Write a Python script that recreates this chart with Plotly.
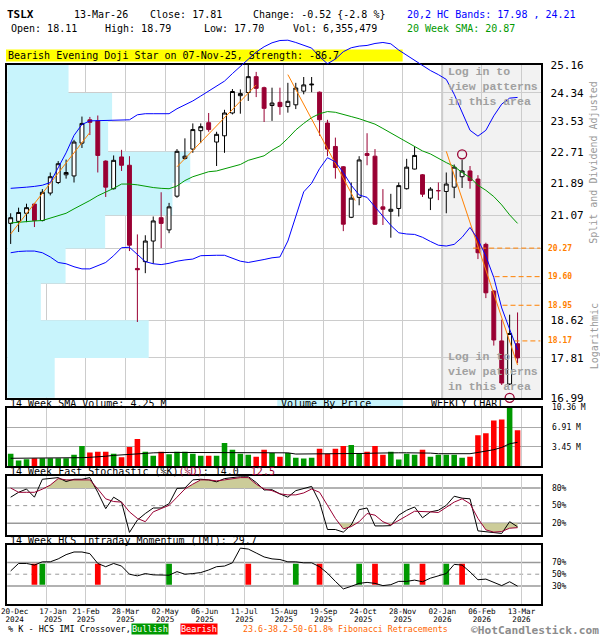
import math
import plotly.graph_objects as go

FONT = "DejaVu Sans Mono"

# ---------------------------------------------------------------- data
x_tick_weeks = [0, 4, 9, 14, 19, 24, 29, 34, 39, 44, 49, 54, 59, 64]
x_tick_dates = ["20-Dec", "17-Jan", "21-Feb", "28-Mar", "02-May", "06-Jun", "11-Jul",
                "15-Aug", "19-Sep", "24-Oct", "28-Nov", "02-Jan", "06-Feb", "13-Mar"]
x_tick_years = ["2024", "2025", "2025", "2025", "2025", "2025", "2025",
                "2025", "2025", "2025", "2025", "2026", "2026", "2026"]

price_ticks = [16.99, 17.81, 18.62, 19.44, 20.26, 21.07, 21.89, 22.71, 23.53, 24.34, 25.16]
price_tick_text = ["16.99", "17.81", "18.62", "", "", "21.07", "21.89", "22.71", "23.53", "24.34", "25.16"]

opens = [20.87, 20.92, 21.12, 21.35, 20.94, 21.63, 21.90, 22.10, 22.07, 22.94,
         23.58, 23.55, 22.46, 21.74, 22.57, 22.35, 19.79, 19.95, 20.44, 21.01,
         20.71, 21.55, 22.53, 22.78, 23.28, 23.50, 22.97, 23.14, 23.77, 24.26,
         24.35, 24.81, 24.49, 23.98, 24.07, 23.95, 24.00, 24.39, 24.57, 24.36,
         23.49, 22.85, 22.31, 21.02, 21.52, 22.66, 22.59, 21.28, 21.17, 21.24,
         21.74, 22.25, 22.10, 21.50, 21.69, 21.67, 21.78, 22.05, 22.20, 21.99,
         20.36, 19.27, 18.17, 17.27, 18.11]
highs = [21.12, 21.26, 21.36, 21.38, 21.73, 22.16, 22.46, 22.50, 23.03, 23.67,
         23.66, 23.70, 22.48, 22.61, 22.76, 22.59, 20.60, 20.58, 21.04, 21.65,
         21.38, 22.78, 23.07, 23.48, 23.48, 23.77, 23.25, 23.86, 24.45, 24.44,
         25.16, 24.95, 24.52, 24.49, 24.49, 24.63, 24.63, 24.80, 24.80, 24.38,
         23.58, 23.09, 22.33, 21.90, 22.59, 23.21, 22.78, 21.73, 21.61, 21.90,
         22.52, 22.85, 22.12, 21.78, 21.90, 22.16, 22.37, 22.50, 22.33, 22.09,
         20.40, 19.29, 18.63, 18.74, 18.79]
lows = [20.37, 20.66, 20.90, 20.78, 20.92, 21.57, 21.86, 22.00, 21.90, 22.81,
        23.16, 22.16, 21.53, 21.72, 22.20, 20.20, 18.58, 19.68, 19.90, 20.27,
        20.63, 21.51, 22.50, 22.68, 22.94, 23.25, 22.33, 22.68, 23.73, 23.75,
        24.11, 24.22, 23.52, 23.55, 23.72, 23.78, 23.88, 24.30, 24.36, 23.14,
        22.59, 22.00, 20.68, 21.00, 21.32, 22.35, 20.83, 20.83, 20.52, 21.04,
        21.72, 22.24, 21.53, 21.20, 21.45, 21.12, 21.50, 21.76, 21.74, 20.01,
        19.11, 18.07, 17.25, 17.25, 17.70]
closes = [21.01, 21.14, 21.26, 20.94, 21.65, 22.05, 22.39, 22.16, 22.97, 23.48,
          23.51, 22.61, 21.78, 22.48, 22.35, 20.34, 19.76, 20.44, 20.93, 20.87,
          21.28, 22.72, 22.59, 23.31, 23.39, 23.31, 23.18, 23.77, 24.38, 24.32,
          24.81, 24.47, 23.90, 24.05, 23.95, 24.10, 24.48, 24.57, 24.59, 23.58,
          22.78, 22.29, 20.85, 21.50, 22.49, 22.61, 20.85, 21.22, 21.22, 21.82,
          22.30, 22.61, 21.60, 21.73, 21.69, 21.86, 22.30, 22.20, 21.95, 20.16,
          19.23, 18.19, 17.29, 18.33, 17.81]

sma20 = [20.88, 20.90, 20.92, 20.93, 20.94, 21.00, 21.06, 21.12, 21.23, 21.33,
         21.44, 21.56, 21.65, 21.75, 21.86, 21.86, 21.84, 21.80, 21.77, 21.75,
         21.74, 21.81, 21.95, 22.05, 22.12, 22.18, 22.20, 22.26, 22.32, 22.37,
         22.48, 22.53, 22.60, 22.75, 22.87, 23.07, 23.30, 23.48, 23.64, 23.75,
         23.81, 23.79, 23.72, 23.67, 23.61, 23.54, 23.46, 23.34, 23.22, 23.09,
         22.97, 22.85, 22.73, 22.65, 22.53, 22.42, 22.32, 22.16, 22.03, 21.83,
         21.70, 21.54, 21.33, 21.08, 20.87]
band_upper = [21.75, 21.76, 21.78, 21.80, 21.83, 21.90, 22.29, 22.68, 23.15, 23.45,
              23.55, 23.56, 23.57, 23.57, 23.58, 23.58, 23.72, 23.75, 23.75, 23.75,
              23.75, 23.89, 24.00, 24.11, 24.25, 24.40, 24.53, 24.68, 24.90, 25.11,
              25.32, 25.54, 25.70, 25.82, 25.89, 25.90, 25.83, 25.75, 25.66, 25.40,
              25.19, 25.33, 25.55, 25.67, 25.72, 25.74, 25.80, 25.83, 25.79, 25.60,
              25.45, 25.30, 25.13, 24.99, 24.87, 24.73, 24.30, 23.77, 23.29, 23.13,
              23.29, 23.69, 24.02, 24.19, 24.21]
band_lower = [20.16, 20.19, 20.20, 20.20, 20.16, 20.06, 19.93, 19.90, 19.83, 19.78,
              19.78, 19.85, 19.93, 20.09, 20.28, 20.29, 20.11, 19.95, 19.90, 19.88,
              19.91, 19.96, 19.99, 20.01, 20.09, 20.10, 20.10, 20.10, 20.03, 19.96,
              19.93, 19.96, 20.00, 20.04, 20.06, 20.44, 21.07, 21.66, 21.88, 22.26,
              22.55, 22.44, 22.16, 21.83, 21.58, 21.52, 21.28, 21.06, 20.82, 20.64,
              20.61, 20.60, 20.53, 20.43, 20.34, 20.32, 20.36, 20.53, 20.77, 20.48,
              20.08, 19.58, 18.89, 18.42, 17.98]

volume_m = [2.24, 1.03, 1.27, 1.44, 1.44, 1.44, 1.44, 1.44, 2.07, 3.62,
            2.47, 2.59, 2.59, 2.24, 1.61, 3.45, 4.83, 2.59, 1.90, 2.59,
            2.13, 2.59, 2.59, 2.24, 1.90, 1.90, 1.90, 4.14, 2.93, 2.24,
            2.07, 1.73, 2.93, 2.36, 1.73, 2.36, 1.55, 1.38, 1.55, 3.11,
            2.24, 3.11, 3.62, 3.80, 2.36, 2.59, 3.62, 2.07, 2.59, 1.21,
            2.24, 2.07, 2.93, 1.73, 2.07, 2.07, 2.07, 1.55, 1.73, 5.52,
            5.87, 8.11, 8.28, 11.20, 6.36]
volume_sma_m = [1.44, 1.44, 1.44, 1.44, 1.44, 1.44, 1.44, 1.44, 1.50, 1.55,
                1.61, 1.67, 1.80, 1.95, 2.01, 2.13, 2.25, 2.30, 2.40, 2.47,
                2.47, 2.47, 2.47, 2.47, 2.47, 2.47, 2.35, 2.47, 2.47, 2.47,
                2.47, 2.47, 2.47, 2.47, 2.47, 2.40, 2.19, 2.19, 2.19, 2.19,
                2.25, 2.30, 2.30, 2.30, 2.30, 2.30, 2.35, 2.41, 2.41, 2.41,
                2.41, 2.41, 2.41, 2.35, 2.25, 2.25, 2.25, 2.25, 2.25, 2.47,
                2.70, 2.95, 3.35, 4.00, 4.25]
vol_ticks = [3.45, 6.91, 10.36]
vol_tick_text = ["3.45 M", "6.91 M", "10.36 M"]

stoch_k = [64.4, 72.7, 78.3, 64.4, 94.9, 96.0, 97.7, 91.0, 94.9, 94.9,
           97.7, 72.7, 44.9, 64.4, 56.0, 4.4, 25.5, 36.6, 46.0, 46.0,
           53.3, 79.4, 80.0, 93.8, 94.9, 93.8, 90.5, 96.0, 97.7, 99.4,
           99.4, 89.4, 76.6, 77.1, 70.0, 64.4, 75.5, 79.4, 82.7, 56.0,
           9.4, 9.4, 4.9, 17.1, 43.2, 46.0, 15.5, 15.5, 16.0, 33.8,
           42.1, 47.7, 29.4, 39.4, 42.1, 50.5, 66.0, 62.7, 61.6, 7.1,
           6.0, 4.9, 2.7, 22.7, 14.0]
stoch_d = [80.0, 72.7, 72.7, 72.7, 78.0, 85.0, 96.0, 93.8, 93.8, 93.8,
           93.8, 78.3, 61.6, 57.0, 56.0, 39.4, 28.3, 22.7, 39.4, 45.0,
           50.5, 64.4, 78.3, 86.6, 93.8, 93.8, 92.1, 93.8, 96.0, 97.7,
           97.7, 86.6, 78.3, 75.5, 70.0, 68.3, 68.3, 71.6, 78.3, 72.7,
           50.5, 28.3, 10.5, 14.4, 22.7, 36.6, 33.8, 22.7, 17.1, 25.5,
           32.7, 40.5, 40.5, 39.4, 38.3, 47.7, 56.0, 61.6, 53.3, 28.3,
           8.8, 4.9, 6.0, 11.6, 12.5]

imi = [55.6, 68.3, 68.3, 65.6, 71.1, 71.1, 76.1, 83.3, 87.8, 87.8,
       85.0, 68.3, 62.8, 68.3, 63.9, 50.0, 47.2, 51.1, 48.9, 48.3,
       48.3, 54.4, 50.0, 51.1, 52.8, 57.2, 62.8, 63.9, 69.4, 94.4,
       92.8, 86.1, 79.4, 76.1, 75.0, 71.1, 71.1, 69.4, 69.4, 62.8,
       51.7, 37.8, 25.0, 29.4, 34.4, 36.1, 34.4, 30.6, 32.2, 37.8,
       37.8, 40.0, 37.2, 43.3, 47.2, 51.1, 66.7, 65.6, 53.9, 40.6,
       41.7, 36.1, 30.6, 37.2, 29.7]
imi_cross_weeks = [3, 4, 11, 20, 30, 36, 39, 44, 46, 50, 52, 55, 57]
imi_cross_bullish = [False, True, False, True, False, True, False, True, False, True, False, True, False]

trend_w0 = [0, 21, 35, 55]
trend_p0 = [20.61, 22.31, 24.87, 22.72]
trend_w1 = [10, 31, 43.5, 64]
trend_p1 = [23.23, 24.57, 21.44, 17.66]

fib_levels = [20.27, 19.60, 18.95, 18.17]
fib_start_weeks = [58.4, 61.1, 62.1, 63.6]

vbp_volume = [4.8, 14.3, 3.4, 5.9, 9.9, 16.7, 18.5, 10.2, 10.6, 6.2]  # per price band between ticks

pattern_weeks = [44, 45, 46]
signal_weeks = [57, 63]
signal_prices = [22.64, 16.99]

# ---------------------------------------------------------------- style / geometry
W, H = 600, 640
RED_C = "#990033"
CYAN = "#c8f4fc"
GRID = "#cccccc"
ORANGE = "#ff8000"
BLUE = "#0000ff"
GREEN = "#009900"
VRED = "#ff0000"
OLIVE = "#cccc99"
GRAYTXT = "#a0a0a0"


def px(x):
    return x / W


def py(y):
    return 1 - y / H


X_DOM = [px(1.2), px(540)]
PRICE_DOM = [py(400), py(60)]
BAND_DOM = [py(400), py(25)]
VOL_DOM = [py(470), py(410)]
STO_DOM = [py(540), py(480)]
IMI_DOM = [py(610), py(550)]
X_RANGE = [-0.44, 66.91]
LOG_LO, LOG_HI = math.log10(price_ticks[0]), math.log10(price_ticks[-1])
LOG_BAND_HI = LOG_HI + (LOG_HI - LOG_LO) * (60 - 25) / 340.0
VBP_RANGE = [0, 53.9]
BORDER = 1.5

n = len(closes)
weeks = list(range(n))
grid_weeks = [w + 0.5 for w in x_tick_weeks[1:]]
label_pos = [w + 0.5 for w in x_tick_weeks]
label_pos[1] += 0.85

fig = go.Figure()

# volume by price (base subplot, drawn under the candles)
vx, vy = [], []
for k, v in enumerate(vbp_volume):
    lo, hi = price_ticks[k], price_ticks[k + 1]
    vx += [0, v, v, 0, 0, None]
    vy += [lo, lo, hi, hi, lo, None]
fig.add_trace(go.Scatter(x=vx, y=vy, mode="lines", fill="toself", fillcolor=CYAN,
                         line=dict(width=0, color=CYAN), xaxis="x", yaxis="y", hoverinfo="skip"))

# SMA 20
fig.add_trace(go.Scatter(x=weeks, y=sma20, mode="lines", line=dict(color=GREEN, width=1),
                         xaxis="x2", yaxis="y", hoverinfo="skip"))


def candles(idx, fill, line):
    st = dict(fillcolor=fill, line=dict(color=line, width=1))
    return go.Candlestick(x=idx, open=[opens[i] for i in idx], high=[highs[i] for i in idx],
                          low=[lows[i] for i in idx], close=[closes[i] for i in idx],
                          increasing=st, decreasing=st, whiskerwidth=0,
                          xaxis="x2", yaxis="y", hoverinfo="skip")


up_idx = [i for i in weeks if closes[i] > opens[i]]
dn_idx = [i for i in weeks if closes[i] <= opens[i]]
fig.add_trace(candles(up_idx, "white", "black"))
fig.add_trace(candles(dn_idx, RED_C, RED_C))

# trend lines
for a, b, c, d in zip(trend_w0, trend_p0, trend_w1, trend_p1):
    fig.add_trace(go.Scatter(x=[a, c], y=[b, d], mode="lines", line=dict(color=ORANGE, width=1),
                             xaxis="x2", yaxis="y", hoverinfo="skip"))
# fibonacci levels
for lvl, w0 in zip(fib_levels, fib_start_weeks):
    fig.add_trace(go.Scatter(x=[w0, X_RANGE[1]], y=[lvl, lvl], mode="lines",
                             line=dict(color=ORANGE, width=1, dash="5px,3px"),
                             xaxis="x2", yaxis="y", hoverinfo="skip"))
# signal circles
fig.add_trace(go.Scatter(x=signal_weeks, y=signal_prices, mode="markers", cliponaxis=False,
                         marker=dict(symbol="circle-open", size=9, color=RED_C, line=dict(width=1.3, color=RED_C)),
                         xaxis="x2", yaxis="y", hoverinfo="skip"))

# HC bands (separate taller subplot so the line may rise above the panel)
for band in (band_upper, band_lower):
    fig.add_trace(go.Scatter(x=weeks, y=band, mode="lines", line=dict(color=BLUE, width=1),
                             xaxis="x3", yaxis="y3", hoverinfo="skip"))

# volume
vcol = [GREEN if closes[i] >= opens[i] else VRED for i in weeks]
fig.add_trace(go.Bar(x=weeks, y=volume_m, marker=dict(color=vcol, line=dict(width=0)), width=0.7,
                     xaxis="x4", yaxis="y4", hoverinfo="skip"))
fig.add_trace(go.Scatter(x=weeks, y=volume_sma_m, mode="lines", line=dict(color="black", width=1),
                         xaxis="x4", yaxis="y4", hoverinfo="skip"))


# stochastic
def clipped(vals, thr, above):
    xs, ys = [], []
    for i, v in enumerate(vals):
        if i > 0 and (vals[i - 1] - thr) * (v - thr) < 0:
            t = (thr - vals[i - 1]) / (v - vals[i - 1])
            xs.append(i - 1 + t)
            ys.append(thr)
        xs.append(i)
        ys.append(max(v, thr) if above else min(v, thr))
    xs += [len(vals) - 1, 0]
    ys += [thr, thr]
    return xs, ys


for thr, above in ((80, True), (20, False)):
    fx, fy = clipped(stoch_d, thr, above)
    fig.add_trace(go.Scatter(x=fx, y=fy, mode="lines", fill="toself", fillcolor=OLIVE,
                             line=dict(width=0, color=OLIVE), xaxis="x5", yaxis="y5", hoverinfo="skip"))
fig.add_trace(go.Scatter(x=weeks, y=stoch_k, mode="lines", line=dict(color="black", width=1),
                         xaxis="x5", yaxis="y5", hoverinfo="skip"))
fig.add_trace(go.Scatter(x=weeks, y=stoch_d, mode="lines", line=dict(color=RED_C, width=1),
                         xaxis="x5", yaxis="y5", hoverinfo="skip"))

# IMI
IMI_ZONE = (32, 68)
fig.add_trace(go.Bar(x=imi_cross_weeks, y=[IMI_ZONE[1] - IMI_ZONE[0]] * len(imi_cross_weeks),
                     base=[IMI_ZONE[0]] * len(imi_cross_weeks), width=0.72,
                     marker=dict(color=[GREEN if b else VRED for b in imi_cross_bullish], line=dict(width=0)),
                     xaxis="x6", yaxis="y6", hoverinfo="skip"))
fig.add_trace(go.Scatter(x=weeks, y=imi, mode="lines", line=dict(color="black", width=1),
                         xaxis="x6", yaxis="y6", hoverinfo="skip"))
fig.add_trace(go.Scatter(x=[], y=[], xaxis="x7", yaxis="y6", hoverinfo="skip"))
fig.add_trace(go.Scatter(x=[], y=[], xaxis="x8", yaxis="y6", hoverinfo="skip"))

# ---------------------------------------------------------------- axes
week_axis = dict(range=X_RANGE, tickvals=grid_weeks, showticklabels=False, ticks="",
                 showgrid=True, gridcolor=GRID, gridwidth=1, zeroline=False,
                 showline=True, mirror=True, linecolor="black", linewidth=BORDER,
                 rangeslider=dict(visible=False), fixedrange=True)
tickfont = dict(family=FONT, size=8, color="black")
label_font = dict(family=FONT, size=7.6, color="black")
label_axis = dict(overlaying="x6", anchor="y6", range=X_RANGE, tickvals=label_pos,
                  showgrid=False, zeroline=False, showline=False, ticks="outside",
                  tickcolor="rgba(0,0,0,0)", tickangle=0, tickfont=label_font,
                  ticklabeloverflow="allow", fixedrange=True)

fig.update_layout(
    xaxis=dict(domain=X_DOM, anchor="y", range=VBP_RANGE, showgrid=False, zeroline=False,
               showticklabels=False, ticks="", showline=False, fixedrange=True),
    yaxis=dict(domain=PRICE_DOM, anchor="x", type="log", range=[LOG_LO, LOG_HI], side="right",
               tickvals=price_ticks, ticktext=price_tick_text, showgrid=True, gridcolor=GRID,
               zeroline=False, showline=True, mirror=True, linecolor="black", linewidth=BORDER,
               ticks="outside", ticklen=6, tickcolor="rgba(0,0,0,0)",
               tickfont=dict(family=FONT, size=11, color="black"), fixedrange=True),
    xaxis2=dict(overlaying="x", anchor="y", **week_axis),
    xaxis3=dict(domain=X_DOM, anchor="y3", range=X_RANGE, visible=False, fixedrange=True),
    yaxis3=dict(domain=BAND_DOM, anchor="x3", type="log", range=[LOG_LO, LOG_BAND_HI],
                visible=False, fixedrange=True),
    xaxis4=dict(domain=X_DOM, anchor="y4", **week_axis),
    yaxis4=dict(domain=VOL_DOM, anchor="x4", range=[0, vol_ticks[-1]], side="right",
                tickvals=vol_ticks, ticktext=vol_tick_text, showgrid=True, gridcolor="#aaaaaa",
                zeroline=False, showline=True, mirror=True, linecolor="black", linewidth=BORDER,
                ticks="outside", ticklen=8, tickcolor="rgba(0,0,0,0)", tickfont=tickfont, fixedrange=True),
    xaxis5=dict(domain=X_DOM, anchor="y5", **week_axis),
    yaxis5=dict(domain=STO_DOM, anchor="x5", range=[0, 100], side="right", tickvals=[20, 50, 80],
                ticktext=["20%", "50%", "80%"], showgrid=False, zeroline=False, showline=True,
                mirror=True, linecolor="black", linewidth=BORDER, ticks="outside", ticklen=8,
                tickcolor="rgba(0,0,0,0)", tickfont=tickfont, fixedrange=True),
    xaxis6=dict(domain=X_DOM, anchor="y6", **week_axis),
    yaxis6=dict(domain=IMI_DOM, anchor="x6", range=[0, 100], side="right", tickvals=[30, 50, 70],
                ticktext=["30%", "50%", "70%"], showgrid=False, zeroline=False, showline=True,
                mirror=True, linecolor="black", linewidth=BORDER, ticks="outside", ticklen=8,
                tickcolor="rgba(0,0,0,0)", tickfont=tickfont, fixedrange=True),
    xaxis7=dict(ticktext=x_tick_dates, ticklen=0, **label_axis),
    xaxis8=dict(ticktext=x_tick_years, ticklen=8.0, **label_axis),
)

# ---------------------------------------------------------------- shapes
shapes = []
# banner + "Volume By Price" background
shapes.append(dict(type="rect", xref="paper", yref="paper", x0=px(0), x1=px(400.7), y0=py(56.7), y1=py(44.3),
                   fillcolor="#ffff00", line=dict(width=0), layer="below"))
shapes.append(dict(type="rect", xref="paper", yref="paper", x0=px(274), x1=px(401), y0=py(410), y1=py(400.8),
                   fillcolor=CYAN, line=dict(width=0), layer="below"))
# log-in region
shapes.append(dict(type="rect", xref="x2", yref="y domain", x0=54.5, x1=X_RANGE[1], y0=0, y1=1,
                   fillcolor="rgba(0,0,0,0.05)", line=dict(width=0), layer="below"))
shapes.append(dict(type="line", xref="x2", yref="y domain", x0=54.5, x1=54.5, y0=0, y1=1,
                   line=dict(color="#999999", width=1.5), layer="below"))
# pattern highlights
for w in pattern_weeks:
    shapes.append(dict(type="rect", xref="x2", yref="y", x0=w - 0.69, x1=w + 0.69,
                       y0=math.log10(lows[w]) - 0.0011, y1=math.log10(highs[w]) + 0.0011,
                       fillcolor="#ffff00", line=dict(width=0), layer="below"))
# oscillator reference lines
for yax, lvls in (("5", (20, 50, 80)), ("6", (30, 50, 70))):
    for lv in lvls:
        shapes.append(dict(type="line", xref="x" + yax + " domain", yref="y" + yax, x0=0, x1=1, y0=lv, y1=lv,
                           line=dict(color="#999999", width=1.5 if lv != 50 else 1,
                                     dash="solid" if lv != 50 else "4px,4px"), layer="below"))
fig.update_layout(shapes=shapes)


# ---------------------------------------------------------------- text
def txt(x, y, s, size=10, color="black", xanchor="left", yanchor="middle", family=FONT, **kw):
    return dict(xref="paper", yref="paper", x=px(x), y=py(y), text=s, showarrow=False,
                font=dict(family=family, size=size, color=color), xanchor=xanchor, yanchor=yanchor,
                borderpad=0, **kw)


stoch_label = ("14 Week Fast Stochastic (%K)<span style='color:" + RED_C + "'>(%D)</span>: 14.0"
               "\u00a0\u00a0<span style='color:" + RED_C + "'>12.5</span>")

ann = [
    txt(0, 9, "<b>TSLX</b>", 11),
    txt(68, 9, "13-Mar-26"),
    txt(144, 9, "Close: 17.81"),
    txt(248, 9, "Change: -0.52 {-2.8 %}"),
    txt(404, 9, "20,2 HC Bands: 17.98 , 24.21", color=BLUE),
    txt(4, 23, "Open: 18.11"),
    txt(99, 23, "High: 18.79"),
    txt(199, 23, "Low: 17.70"),
    txt(289, 23, "Vol: 6,355,479"),
    txt(404, 23, "20 Week SMA: 20.87", color=GREEN),
    txt(1, 50.5, "Bearish Evening Doji Star on 07-Nov-25, Strength: -86.7"),
    txt(3, 405.5, "14 Week SMA Volume: 4.25 M"),
    txt(277, 405.5, "Volume By Price"),
    txt(428, 405.5, "WEEKLY CHART"),
    txt(3, 475.5, stoch_label),
    txt(3, 545.5, "14 Week HCS Intraday Momentum (IMI): 29.7"),
    txt(1, 635.5, "% K - HCS IMI Crossover,", 8.5),
    txt(145, 635.5, "Bullish", 8.5, color="white", xanchor="center", bgcolor=GREEN),
    txt(194.5, 635.5, "Bearish", 8.5, color="white", xanchor="center", bgcolor=VRED),
    txt(238, 635.5, "23.6-38.2-50-61.8% Fibonacci Retracements", 8.3, color="#ff6600"),
    txt(600, 637, "<b>\u00a9HotCandlestick.com</b>", 11.2, color="#8c8c8c", xanchor="right"),
    txt(445, 59.5, "<b>Log in to<br>view patterns<br>in this area</b>", 11.5, color=GRAYTXT,
        yanchor="top", family="Liberation Mono", align="left"),
    txt(445, 350.5, "<b>Log in to<br>view patterns<br>in this area</b>", 11.5, color=GRAYTXT,
        yanchor="top", family="Liberation Mono", align="left"),
    txt(594, 160, "Split and Dividend Adjusted", 10, color="#999999", xanchor="center", textangle=-90),
    txt(594, 337, "Logarithmic", 10, color="#999999", xanchor="center", textangle=-90),
]
for lvl in fib_levels:
    ann.append(dict(xref="paper", yref="y", x=px(545), y=math.log10(lvl), text="<b>%.2f</b>" % lvl,
                    showarrow=False, xanchor="left", yanchor="middle",
                    font=dict(family=FONT, size=8, color=ORANGE)))
fig.update_layout(annotations=ann)

fig.update_layout(width=W, height=H, margin=dict(l=0, r=0, t=0, b=0), showlegend=False,
                  paper_bgcolor="white", plot_bgcolor="rgba(0,0,0,0)", hovermode=False,
                  barmode="overlay", font=dict(family=FONT, size=10, color="black"))

fig.write_html("out.html", config={"displayModeBar": False},
               post_script="document.body.style.margin='0px';")
